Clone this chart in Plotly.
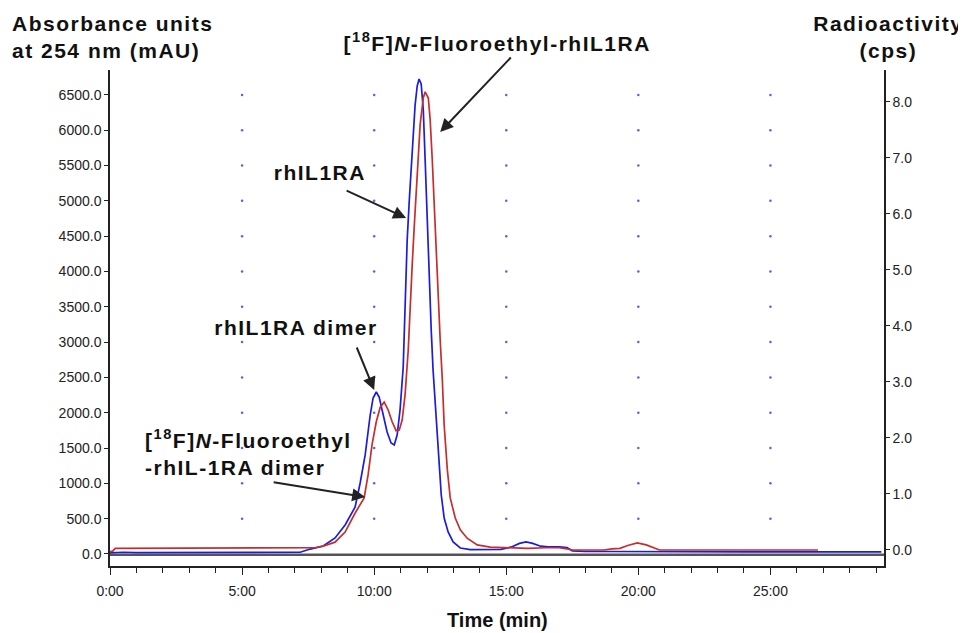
import plotly.graph_objects as go

# ---------------- data ----------------
# UV absorbance trace (blue), left axis, mAU
uv_time = [0.0, 0.5, 1.0, 2.0, 3.0, 4.0, 5.0, 6.0, 7.0, 7.20, 7.58, 8.07, 8.52, 8.90,
           9.28, 9.47, 9.66, 9.85, 9.96, 10.08, 10.19, 10.34, 10.49, 10.64, 10.76,
           10.87, 10.98, 11.10, 11.17, 11.25, 11.33, 11.44, 11.55, 11.63, 11.70,
           11.78, 11.86, 11.93, 12.01, 12.08, 12.16, 12.23, 12.31, 12.39, 12.46,
           12.54, 12.65, 12.80, 12.99, 13.26, 13.64, 14.0, 14.5, 14.8, 15.2, 15.5,
           15.75, 16.0, 16.3, 16.6, 17.0, 17.3, 17.5, 18.0, 19.0, 20.0, 21.0, 22.0,
           23.0, 24.0, 25.0, 26.0, 27.0, 28.0, 29.2]
uv_mau = [15, 25, 20, 20, 20, 22, 20, 20, 22, 25, 70, 113, 227, 411,
          665, 1005, 1402, 1968, 2209, 2294, 2223, 1968, 1727, 1572, 1543,
          1685, 2039, 2648, 3597, 4446, 5013, 5721, 6358, 6627, 6726,
          6655, 6287, 5579, 4729, 3880, 3172, 2605, 2110, 1685, 1260,
          835, 510, 312, 170, 85, 62, 60, 60, 65, 100, 150,
          170, 150, 110, 100, 100, 90, 45, 35, 35, 32, 30, 30,
          30, 30, 30, 30, 30, 30, 30]

# Radioactivity trace (red), right axis, cps
rad_time = [0.0, 0.1, 0.2, 1.0, 2.0, 3.0, 4.0, 5.0, 6.0, 7.0, 7.20, 7.77, 8.07, 8.52,
            8.90, 9.28, 9.62, 9.77, 9.92, 10.08, 10.23, 10.38, 10.53, 10.68, 10.83,
            10.95, 11.06, 11.17, 11.29, 11.36, 11.44, 11.52, 11.63, 11.74, 11.86,
            11.93, 12.05, 12.12, 12.20, 12.27, 12.35, 12.42, 12.50, 12.58, 12.65,
            12.77, 12.88, 13.07, 13.26, 13.52, 13.90, 14.39, 15.0, 15.8, 16.5, 17.0,
            17.3, 17.5, 18.0, 18.7, 19.0, 19.3, 19.6, 19.96, 20.3, 20.8, 21.5, 22.5,
            23.5, 24.5, 25.5, 26.8]
rad_cps = [-0.03, -0.02, 0.03, 0.03, 0.03, 0.03, 0.03, 0.03, 0.03, 0.03, 0.03, 0.04, 0.07, 0.14,
           0.32, 0.66, 0.93, 1.34, 1.88, 2.29, 2.55, 2.64, 2.50, 2.29, 2.13,
           2.14, 2.32, 2.77, 3.57, 4.38, 5.09, 5.80, 6.79, 7.59, 8.07,
           8.18, 8.07, 7.68, 6.96, 6.16, 5.36, 4.46, 3.75, 3.04, 2.23,
           1.43, 0.93, 0.57, 0.36, 0.21, 0.09, 0.05, 0.04, 0.03, 0.04, 0.04,
           0.02, 0.0, 0.0, 0.0, 0.02, 0.03, 0.08, 0.125, 0.09, 0.0, 0.0, 0.0,
           0.0, 0.0, 0.0, 0.0]

# axis ticks
x_tick_vals = [0, 5, 10, 15, 20, 25]
x_tick_text = ["0:00", "5:00", "10:00", "15:00", "20:00", "25:00"]
y_tick_vals = [0, 500, 1000, 1500, 2000, 2500, 3000, 3500, 4000, 4500, 5000, 5500, 6000, 6500]
y_tick_text = [f"{v:.1f}" for v in y_tick_vals]
y2_tick_vals = [0, 1, 2, 3, 4, 5, 6, 7, 8]
y2_tick_text = [f"{v:.1f}" for v in y2_tick_vals]

# dotted grid points (intersection of 5-min verticals and 500 mAU levels)
grid_x = [t for t in x_tick_vals[1:] for _ in y_tick_vals[1:]]
grid_y = [v for _ in x_tick_vals[1:] for v in y_tick_vals[1:]]

BLUE = "#1c1cdc"
RED = "#c62e2e"
FONT = "Liberation Sans, Arial, sans-serif"

fig = go.Figure()

fig.add_trace(go.Scatter(x=grid_x, y=grid_y, mode="markers",
                         marker=dict(size=2.5, color="#5a5aff"),
                         hoverinfo="skip", showlegend=False))

fig.add_trace(go.Scatter(x=rad_time, y=rad_cps, mode="lines", yaxis="y2",
                         line=dict(color=RED, width=1.7), showlegend=False,
                         name="Radioactivity"))
fig.add_trace(go.Scatter(x=uv_time, y=uv_mau, mode="lines",
                         line=dict(color=BLUE, width=1.7), showlegend=False,
                         name="UV 254 nm"))

# zero baseline
fig.add_shape(type="line", xref="paper", x0=0, x1=1, yref="y", y0=-10, y1=-10,
              line=dict(color="#555555", width=2.5), layer="below")

axis_font = dict(family=FONT, size=14, color="#222222")

# page body has an 8px margin, so the figure sits at (8, 8) in the window
fig.update_layout(
    width=958, height=625,
    margin=dict(l=102, r=82, t=62, b=67),
    paper_bgcolor="white", plot_bgcolor="white",
    xaxis=dict(range=[0, 29.3], tickmode="array", tickvals=x_tick_vals, ticktext=x_tick_text,
               ticks="outside", ticklen=7, tickcolor="#222", tickwidth=1,
               minor=dict(tickmode="linear", tick0=0, dtick=1, ticks="outside", ticklen=5,
                          tickcolor="#222"),
               showline=True, linecolor="#222", linewidth=1.5, showgrid=False,
               zeroline=False, tickfont=axis_font, ticklabelstandoff=4),
    yaxis=dict(range=[-170, 6853], tickmode="array", tickvals=y_tick_vals, ticktext=y_tick_text,
               ticks="outside", ticklen=4, tickcolor="#222", showline=True, linecolor="#222",
               linewidth=1.5, showgrid=False, zeroline=False, tickfont=axis_font),
    yaxis2=dict(range=[-0.286, 8.57], overlaying="y", side="right", tickmode="array",
                tickvals=y2_tick_vals, ticktext=y2_tick_text, ticks="outside", ticklen=4,
                tickcolor="#222", showline=True, linecolor="#222", linewidth=1.5,
                showgrid=False, zeroline=False, tickfont=axis_font),
)

title_font = dict(family=FONT, size=21, color="#111111", weight="bold")
xtitle_font = dict(family=FONT, size=20, color="#111111", weight="bold")
label_font = dict(family=FONT, size=21, color="#111111", weight="bold")

annotations = [
    # axis titles
    dict(text="Absorbance units<br>at 254 nm (mAU)", xref="paper", yref="paper",
         x=-0.129, y=1.066, xanchor="left", yanchor="middle", align="left",
         showarrow=False, font=title_font),
    dict(text="Radioactivity<br>(cps)", xref="paper", yref="paper",
         x=1.006, y=1.066, xanchor="center", yanchor="middle", align="center",
         showarrow=False, font=title_font),
    dict(text="Time (min)", xref="paper", yref="paper", x=0.5, y=-0.109,
         xanchor="center", yanchor="middle", showarrow=False, font=xtitle_font),
    # peak labels
    dict(text="[<sup>18</sup>F]<i>N</i>-Fluoroethyl-rhIL1RA", xref="paper", yref="paper",
         x=0.5, y=1.056, xanchor="center", yanchor="middle", showarrow=False, font=label_font),
    dict(text="rhIL1RA", xref="paper", yref="paper", x=0.271, y=0.794,
         xanchor="center", yanchor="middle", showarrow=False, font=label_font),
    dict(text="rhIL1RA dimer", xref="paper", yref="paper", x=0.240, y=0.480,
         xanchor="center", yanchor="middle", showarrow=False, font=label_font),
    dict(text="[<sup>18</sup>F]<i>N</i>-Fluoroethyl<br>-rhIL-1RA dimer", xref="paper", yref="paper",
         x=0.0426, y=0.228, xanchor="left", yanchor="middle", align="left",
         showarrow=False, font=label_font),
]

arrow_style = dict(text="", showarrow=True, arrowhead=2, arrowsize=1.3, arrowwidth=2,
                   arrowcolor="#222222", standoff=0, startstandoff=0, xref="x", yref="y")
arrows = [
    dict(x=12.5, y=5975, ax=72, ay=-76),
    dict(x=11.21, y=4758, ax=-61, ay=-28),
    dict(x=10.0, y=2322, ax=-18, ay=-44),
    dict(x=9.66, y=807, ax=-93, ay=-15),
]
for a in arrows:
    annotations.append({**arrow_style, **a})

fig.update_layout(annotations=annotations)

# the reference's labels are set with wide letter spacing
post_js = """
document.querySelectorAll('.annotation-text').forEach(function (e) {
    if (e.textContent.indexOf('Time') === -1) { e.style.letterSpacing = '1.5px'; }
});
"""

fig.write_html("out.html", post_script=post_js)
